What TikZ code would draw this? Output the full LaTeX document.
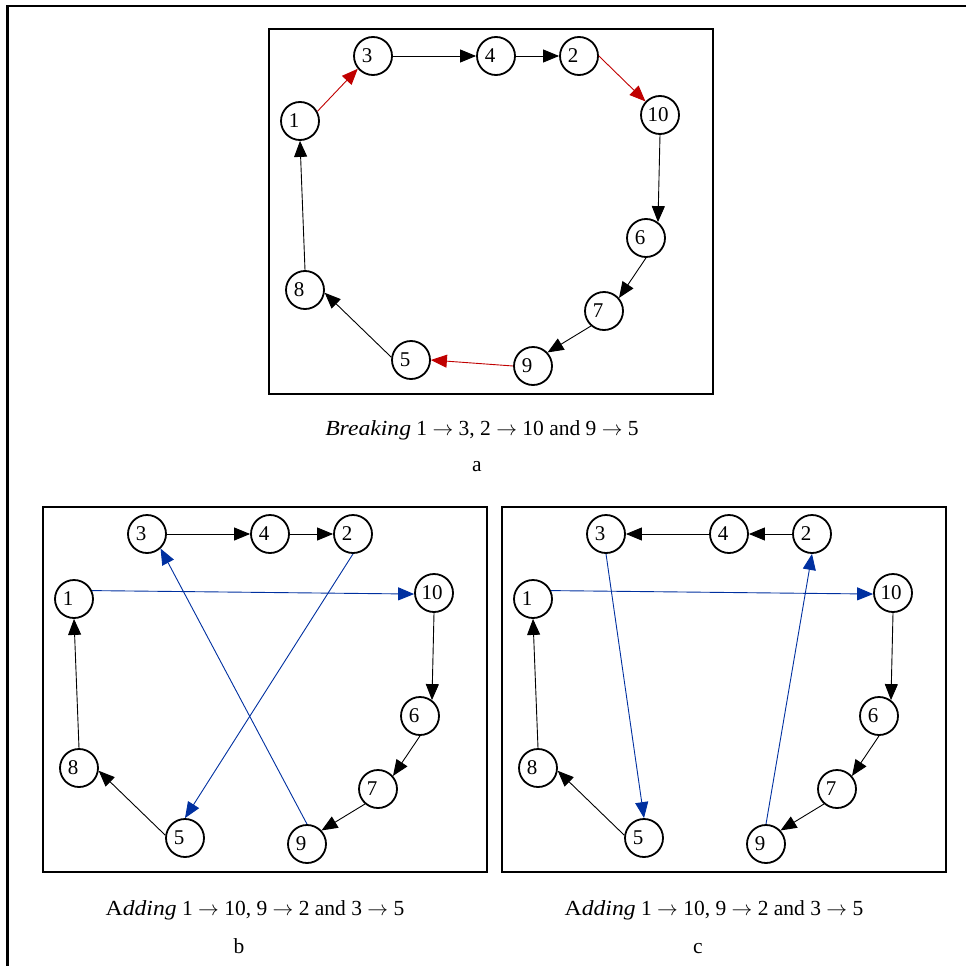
\documentclass[tikz,border=0pt]{standalone}
\usepackage{fontspec}
\usepackage{graphicx}
\setmainfont{Liberation Serif}
\usetikzlibrary{arrows.meta}
\definecolor{ered}{RGB}{192,0,0}
\definecolor{eblue}{RGB}{0,48,160}
\newcommand\vlab[2][12pt]{\makebox[0pt]{#2\hspace{#1}}}
\newcommand\arr{$\rightarrow$}
\tikzset{
  vtx/.style={circle, draw, line width=1.8pt, minimum size=38pt, inner sep=0pt,
    font=\fontsize{21}{23}\selectfont},
  edge/.style={line width=0.9pt, -{Triangle[length=16pt,width=13pt]}},
  redge/.style={edge, draw=ered},
  bedge/.style={edge, draw=eblue},
  panelbox/.style={draw, line width=2.2pt},
  capt/.style={anchor=base, font=\fontsize{21.5}{24}\selectfont, inner sep=0pt},
  frame/.style={line width=2.8pt}
}
\newcommand\vertices[1]{%
  \draw[panelbox] (43,507) rectangle (487,872);
  \node[vtx] (#1-3) at (147,534) {\vlab{3}};
  \node[vtx] (#1-4) at (270,534) {\vlab{4}};
  \node[vtx] (#1-2) at (353,534) {\vlab{2}};
  \node[vtx] (#1-1) at (74,599) {\vlab{1}};
  \node[vtx] (#1-10) at (434,593) {\vlab[4pt]{10}};
  \node[vtx] (#1-6) at (420,716) {\vlab{6}};
  \node[vtx] (#1-7) at (378,789) {\vlab{7}};
  \node[vtx] (#1-9) at (307,844) {\vlab{9}};
  \node[vtx] (#1-5) at (185,838) {\vlab{5}};
  \node[vtx] (#1-8) at (79,768) {\vlab{8}};
  \draw[edge] (#1-10.-90) -- (#1-6.53);
  \draw[edge] (#1-6.-90) -- (#1-7.41);
  \draw[edge] (#1-7.-131) -- (#1-9.43);
  \draw[edge] (#1-5.172) -- (#1-8.-8);
  \draw[edge] (#1-8.90) -- (#1-1.-90);
}
\begin{document}
\begin{tikzpicture}[x=1pt, y=-1pt]
\useasboundingbox (0,0) rectangle (966,966);
\coordinate (fr-tr) at (966,6);
\coordinate (fr-tl) at (7.5,6);
\coordinate (fr-bl) at (7.5,966);
\draw[frame] (fr-tr) -- (fr-tl) -- (fr-bl);
% panel a
\begin{scope}[shift={(226,-478)}]
  \vertices{a}
  \draw[redge] (a-1.29) -- (a-3.-140);
  \draw[edge] (a-3.0) -- (a-4.180);
  \draw[edge] (a-4.0) -- (a-2.180);
  \draw[redge] (a-2.0) -- (a-10.137);
  \draw[redge] (a-9.180) -- (a-5.0);
\end{scope}
% panel b
\begin{scope}
  \vertices{b}
  \draw[edge] (b-3.0) -- (b-4.180);
  \draw[edge] (b-4.0) -- (b-2.180);
  \draw[bedge] (b-1.25) -- (b-10.183);
  \draw[bedge] (b-2.-90) -- (b-5.90);
  \draw[bedge] (b-9.90) -- (b-3.-47);
\end{scope}
% panel c
\begin{scope}[shift={(459,0)}]
  \vertices{c}
  \draw[edge] (c-2.180) -- (c-4.0);
  \draw[edge] (c-4.180) -- (c-3.0);
  \draw[bedge] (c-1.25) -- (c-10.183);
  \draw[bedge] (c-3.-90) -- (c-5.90);
  \draw[bedge] (c-9.90) -- (c-2.-90);
\end{scope}
% captions
\node[capt] (capa) at (482,435) {\scalebox{1.1}[1]{\textit{Breaking}} 1 \arr{} 3, 2 \arr{} 10 and 9 \arr{} 5};
\node[capt] (leta) at (477,471) {a};
\node[capt] (capb) at (255,915) {\scalebox{1.1}[1]{A\textit{dding}} 1 \arr{} 10, 9 \arr{} 2 and 3 \arr{} 5};
\node[capt] (letb) at (239,953) {b};
\node[capt] (capc) at (714,915) {\scalebox{1.1}[1]{A\textit{dding}} 1 \arr{} 10, 9 \arr{} 2 and 3 \arr{} 5};
\node[capt] (letc) at (698,953) {c};
\end{tikzpicture}
\end{document}
